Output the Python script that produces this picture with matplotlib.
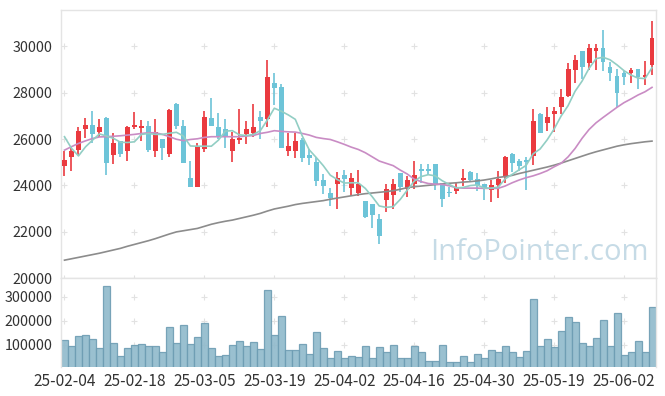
import numpy as np
import matplotlib
matplotlib.use('Agg')
import matplotlib.pyplot as plt

plt.rcParams['font.family'] = ['Noto Sans CJK KR', 'DejaVu Sans']

# daily candles (open, high, low, close)
opens = [24845, 25205, 25536, 26443, 26602, 26314, 26904, 25320, 25896, 25493,
         26515, 26472, 26558, 25493, 25997, 25363, 27509, 26558, 24312, 23938,
         25579, 26904, 26515, 26429, 25493, 25968, 26227, 26270, 26947, 26875,
         28416, 28229, 25493, 25493, 25968, 25320, 25018, 24226, 23678, 24067,
         24456, 23895, 23678, 23333, 23203, 22555, 23376, 23592, 24543, 23851,
         24067, 24686, 24686, 24902, 24110, 23722, 23765, 24240, 24586, 24283,
         24067, 23808, 24024, 24371, 25335, 25032, 25075, 25277, 27062, 26702,
         27062, 27365, 27840, 28992, 29784, 29294, 29813, 29914, 29093, 28704,
         28834, 28834, 29006, 28661, 29179]
highs = [25478, 25666, 26515, 26904, 27206, 26861, 26950, 26242, 25896, 26558,
         27149, 26818, 26774, 26861, 25997, 27293, 27552, 26818, 25032, 25810,
         27206, 27768, 27120, 26861, 26285, 27293, 26774, 27509, 27206, 29395,
         28848, 28373, 26270, 26270, 26026, 25579, 25234, 24500, 23895, 24586,
         24672, 24543, 24672, 23333, 23203, 22771, 24067, 24283, 24543, 24413,
         25032, 24902, 24931, 24902, 24110, 23938, 24110, 24715, 24629, 24543,
         24067, 24240, 24629, 25250, 25378, 25118, 25205, 27278, 27106, 27365,
         27365, 28171, 29266, 29611, 29784, 30086, 30086, 30691, 29309, 29006,
         28920, 29050, 29006, 29352, 31080]
lows = [24398, 24629, 25291, 26026, 25810, 26098, 24427, 24902, 25205, 25061,
        26443, 25896, 25450, 25234, 25075, 25205, 26429, 24974, 23938, 23938,
        25450, 26573, 26011, 25594, 25018, 25795, 25795, 26098, 25982, 26530,
        27480, 25622, 25277, 25190, 25018, 24888, 23982, 23635, 23117, 22987,
        23693, 23549, 23549, 22598, 22163, 21475, 22829, 22987, 23722, 23506,
        23851, 24110, 24456, 23808, 23074, 23506, 23635, 23982, 24154, 23765,
        23376, 23290, 23462, 24110, 24586, 24629, 23779, 24859, 26270, 26357,
        26285, 27091, 27798, 28430, 28575, 28992, 28963, 28949, 28517, 27394,
        28315, 28402, 28142, 28315, 28747]
closes = [25090, 25478, 26342, 26602, 26227, 26515, 24974, 25824, 25363, 26515,
          26602, 26558, 25536, 26285, 25622, 27250, 26573, 24974, 23938, 25695,
          26947, 26573, 26141, 26098, 25997, 26054, 26429, 26515, 26789, 28675,
          28214, 25622, 25709, 25925, 25190, 25190, 24197, 23982, 23462, 24326,
          24283, 24326, 24067, 22641, 22728, 21821, 23851, 24067, 23938, 24226,
          24456, 24629, 24629, 24067, 23419, 23678, 23938, 24326, 24240, 24024,
          23851, 24024, 24283, 25206, 24974, 24845, 25003, 26760, 26270, 26932,
          27192, 27798, 29006, 29395, 29122, 29914, 29914, 29309, 28862, 27998,
          28661, 28963, 28661, 28747, 30346]
volumes = [119300, 94500, 135900, 140000, 123400, 86200, 342800, 106900, 53100, 86200,
           98600, 102800, 94500, 94500, 69700, 173100, 106900, 181400, 102800, 131700,
           189700, 86200, 53100, 57200, 98600, 115200, 94500, 111000, 82100, 326200,
           140000, 218600, 77900, 77900, 102800, 61400, 152400, 86200, 44800, 73800,
           44800, 53100, 49000, 94500, 44800, 90300, 69700, 98600, 44800, 44800,
           94500, 69700, 32400, 32400, 98600, 28300, 28300, 53100, 28300, 61400,
           44800, 77900, 69700, 94500, 69700, 49000, 73800, 289000, 94500, 123400,
           90300, 156600, 214500, 193800, 106900, 94500, 127600, 202100, 94500, 231000,
           57200, 69700, 115200, 69700, 255900]

# moving averages
ma5 = [26100, 25600, 25270, 25660, 25950, 26220, 26130, 26030, 25860, 25850,
       25880, 26200, 26240, 26200, 26200, 26250, 26290, 26130, 25700, 25690,
       25690, 25690, 25950, 26340, 26360, 26180, 26150, 26200, 26360, 26820,
       27330, 27200, 27040, 26850, 26130, 25530, 25200, 24850, 24440, 24250,
       24100, 24110, 24110, 23870, 23510, 23110, 23050, 23080, 23390, 23790,
       24180, 24380, 24460, 24410, 24200, 24040, 23890, 23910, 23990, 24020,
       23880, 23880, 23920, 24280, 24470, 24670, 24860, 25360, 25570, 25960,
       26430, 26990, 27440, 28060, 28500, 29050, 29470, 29530, 29420, 29200,
       28950, 28760, 28630, 28610, 29080]
ma20 = [25520, 25670, 25810, 25920, 26020, 26090, 26100, 26120, 26140, 26170,
        26200, 26240, 26270, 26270, 26200, 26100, 25990, 25930, 25980, 26010,
        26070, 26100, 26100, 26100, 26100, 26100, 26130, 26150, 26240, 26290,
        26360, 26330, 26310, 26300, 26240, 26170, 26070, 26020, 25980, 25880,
        25770, 25650, 25550, 25410, 25230, 25050, 24950, 24850, 24660, 24490,
        24270, 24160, 24080, 24050, 24040, 23980, 23900, 23880, 23880, 23880,
        23870, 23870, 23870, 23970, 24110, 24230, 24330, 24410, 24510, 24630,
        24800, 24950, 25230, 25590, 26030, 26410, 26700, 26930, 27150, 27370,
        27570, 27730, 27900, 28040, 28230]
ma120 = [20770, 20830, 20890, 20950, 21010, 21070, 21140, 21210, 21280, 21370,
         21450, 21530, 21610, 21700, 21800, 21900, 21990, 22040, 22090, 22140,
         22230, 22320, 22390, 22450, 22500, 22570, 22640, 22710, 22790, 22890,
         22980, 23040, 23100, 23170, 23220, 23260, 23300, 23340, 23400, 23450,
         23500, 23550, 23600, 23640, 23670, 23700, 23730, 23770, 23830, 23900,
         23940, 23970, 24000, 24030, 24060, 24090, 24110, 24140, 24160, 24190,
         24230, 24280, 24340, 24380, 24430, 24510, 24580, 24650, 24720, 24790,
         24870, 24960, 25060, 25160, 25260, 25360, 25450, 25530, 25610, 25690,
         25750, 25800, 25840, 25880, 25910]

tick_labels = ['25-02-04', '25-02-18', '25-03-05', '25-03-19', '25-04-02',
               '25-04-16', '25-04-30', '25-05-19', '25-06-02']
price_ticks = [20000, 22000, 24000, 26000, 28000, 30000]
vol_ticks = [100000, 200000, 300000]

UP = '#ea3a3f'
DOWN = '#6dc4d8'
GRID = '#e2e2e2'
SPINE = '#e4e4e4'
TEXT = '#333333'

n = len(closes)
x = np.arange(n)
xticks = np.arange(0, n, 10)[:len(tick_labels)]

fig = plt.figure(figsize=(6.65, 3.96), dpi=100)
ax = fig.add_axes([61 / 665, 1 - 278 / 396, 594.5 / 665, 268 / 396])
axv = fig.add_axes([61 / 665, 1 - 367 / 396, 594.5 / 665, 89 / 396], sharex=ax)


def style_axis(a):
    for s in a.spines.values():
        s.set_color(SPINE)
        s.set_linewidth(1)
    a.tick_params(length=0, colors=TEXT, labelsize=10.3, pad=6)


# grid crosses
gx, gy = np.meshgrid(xticks, price_ticks)
ax.scatter(gx.ravel(), gy.ravel(), marker='+', s=20, color=GRID, linewidths=0.8, zorder=0)
gx, gy = np.meshgrid(xticks, vol_ticks)
axv.scatter(gx.ravel(), gy.ravel(), marker='+', s=20, color=GRID, linewidths=0.8, zorder=0)

# candles
o = np.array(opens); c = np.array(closes)
colors = [UP if cc >= oo else DOWN for oo, cc in zip(opens, closes)]
ax.vlines(x, lows, highs, colors=colors, linewidth=1.2, zorder=2)
ax.bar(x, np.abs(c - o), bottom=np.minimum(o, c), width=0.7, color=colors, zorder=3)

# moving averages
ax.plot(x, ma120, color='#8c8c8c', linewidth=1.2, zorder=4)
ax.plot(x, ma20, color='#c98cc4', linewidth=1.2, zorder=4)
ax.plot(x, ma5, color='#92cec4', linewidth=1.2, zorder=4)

ax.set_ylim(20000, 31570)
ax.set_yticks(price_ticks)
ax.set_yticklabels([str(t) for t in price_ticks])
ax.set_xlim(-0.5, n - 0.5)
ax.tick_params(axis='x', labelbottom=False)
style_axis(ax)

# volume
axv.bar(x, volumes, width=1.0, color='#8fb9cb', edgecolor='#6e9db3', linewidth=0.9, alpha=0.9)
axv.set_ylim(7500, 377000)
axv.set_yticks(vol_ticks)
axv.set_yticklabels([str(t) for t in vol_ticks])
axv.set_xticks(xticks)
axv.set_xticklabels(tick_labels)
style_axis(axv)
axv.tick_params(axis='x', labelsize=11.2, pad=4)
axv.spines['bottom'].set_visible(False)

fig.text(539 / 665, 1 - 253 / 396, 'InfoPointer.com', color='#c6dbe6',
         fontsize=21, family=['Open Sans', 'DejaVu Sans'], ha='center', va='center', zorder=10)

fig.savefig('out.png', dpi=100)
